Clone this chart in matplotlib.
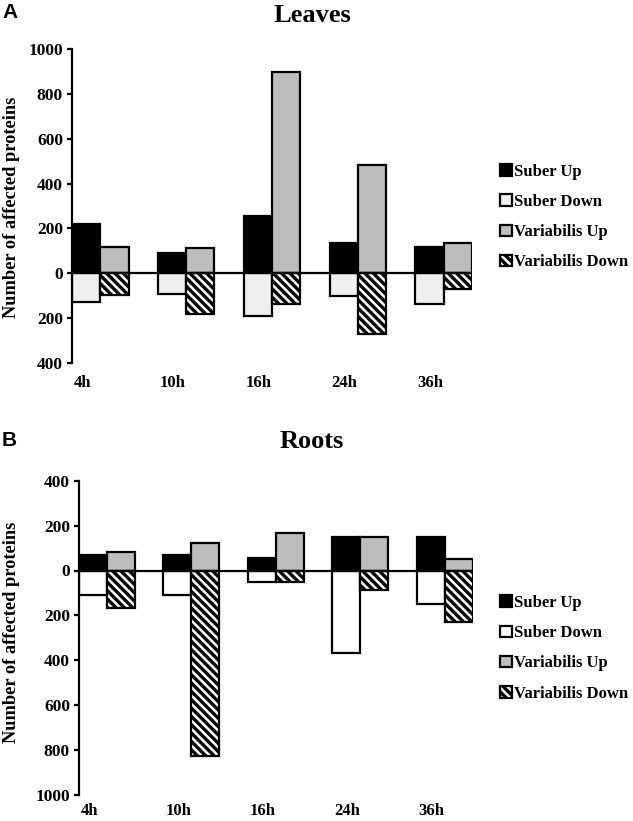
#!/usr/bin/env python3

import numpy as np
import matplotlib as mpl
import matplotlib.pyplot as plt
from matplotlib.ticker import FuncFormatter

# global plot style
mpl.rcParams['font.family'] = ['Liberation Serif', 'DejaVu Serif']
mpl.rcParams['font.weight'] = 'bold'
mpl.rcParams['hatch.linewidth'] = 2.4
mpl.rcParams['hatch.color'] = 'black'

times = ['4h', '10h', '16h', '24h', '36h']
series = ['Suber Up', 'Suber Down', 'Variabilis Up', 'Variabilis Down']

leaves_suber_up = [218, 90, 254, 134, 116]
leaves_suber_down = [127, 92, 191, 100, 140]
leaves_var_up = [116, 114, 900, 483, 134]
leaves_var_down = [98, 182, 137, 271, 72]

roots_suber_up = [71, 67, 55, 151, 151]
roots_suber_down = [108, 111, 52, 368, 151]
roots_var_up = [82, 123, 168, 150, 52]
roots_var_down = [166, 827, 50, 85, 230]

W = 0.33  # bar width, in category units


def draw_panel(ax, s_up, s_down, v_up, v_down, down_color, ylim, yticks, xpad):
    x = np.arange(len(times))
    ec = dict(edgecolor='black', linewidth=1.6)
    h1 = ax.bar(x + W / 2, s_up, W, color='black', label=series[0], **ec)
    h2 = ax.bar(x + W / 2, -np.array(s_down), W, color=down_color, label=series[1], **ec)
    h3 = ax.bar(x + 1.5 * W, v_up, W, color='#bdbdbd', label=series[2], **ec)
    h4 = ax.bar(x + 1.5 * W, -np.array(v_down), W, color='white', hatch='\\\\\\\\',
                label=series[3], **ec)
    ax.axhline(0, color='black', lw=1.6, zorder=3)

    ax.set_xlim(0, len(times) - 1 + 2 * W)
    ax.set_ylim(*ylim)
    ax.set_yticks(yticks)
    ax.yaxis.set_major_formatter(FuncFormatter(lambda v, p: '{:.0f}'.format(abs(v))))
    ax.set_xticks(x + 0.02)
    ax.set_xticklabels(times, ha='left')

    for s in ['top', 'right', 'bottom']:
        ax.spines[s].set_visible(False)
    ax.spines['left'].set_linewidth(1.6)
    ax.tick_params(axis='y', direction='out', length=3.5, width=1.6, labelsize=12.5, pad=3)
    ax.tick_params(axis='x', length=0, labelsize=12, pad=xpad)
    ax.patch.set_alpha(0)
    return [h1, h2, h3, h4]


def add_legend(ax, handles, top_px):
    ax.legend(handles=handles, loc='upper left',
              bbox_to_anchor=(500 / 633, 1 - top_px / 821),
              bbox_transform=fig.transFigure, frameon=False, borderpad=0, borderaxespad=0,
              handlelength=0.7, handleheight=0.7, handletextpad=0.15, labelspacing=0.85,
              prop={'size': 12, 'weight': 'bold'})


fig = plt.figure(figsize=(6.33, 8.21), dpi=100)

# Leaves panel
ax1 = fig.add_axes([72 / 633, 1 - 362.7 / 821, 400 / 633, 313.4 / 821])
hs = draw_panel(ax1, leaves_suber_up, leaves_suber_down, leaves_var_up, leaves_var_down,
                '#efefef', (-400, 1000), np.arange(-400, 1001, 200), 9)
add_legend(ax1, hs, 164)

# Roots panel
ax2 = fig.add_axes([79 / 633, 1 - 795 / 821, 393.7 / 633, 314.3 / 821])
hs = draw_panel(ax2, roots_suber_up, roots_suber_down, roots_var_up, roots_var_down,
                'white', (-1000, 400), np.arange(-1000, 401, 200), 5.5)
add_legend(ax2, hs, 595)

# titles, panel letters and axis labels
fig.text(312 / 633, 1 - 15 / 821, 'Leaves', ha='center', va='center', fontsize=19, weight='bold')
fig.text(312 / 633, 1 - 442 / 821, 'Roots', ha='center', va='center', fontsize=19, weight='bold')
fig.text(2 / 633, 1 - 12 / 821, 'A', ha='left', va='center', fontsize=15, weight='bold',
         family='Liberation Sans')
fig.text(2 / 633, 1 - 440 / 821, 'B', ha='left', va='center', fontsize=15, weight='bold',
         family='Liberation Sans')
fig.text(12 / 633, 1 - 207 / 821, 'Number of affected proteins', rotation=90,
         ha='center', va='center', fontsize=13.2, weight='bold')
fig.text(12 / 633, 1 - 632 / 821, 'Number of affected proteins', rotation=90,
         ha='center', va='center', fontsize=13.2, weight='bold')

fig.savefig('out.png', dpi=100)
